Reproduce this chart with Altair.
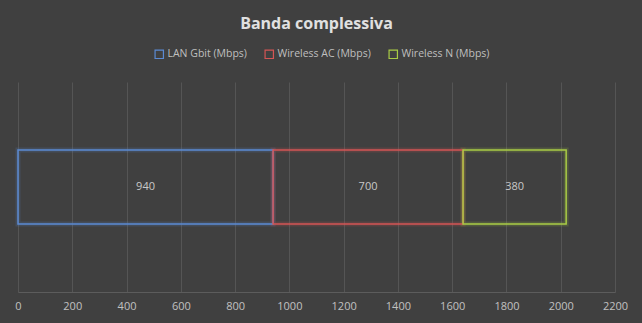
import altair as alt
import pandas as pd

series = ["LAN Gbit (Mbps)", "Wireless AC (Mbps)", "Wireless N (Mbps)"]
values = [940, 700, 380]
colors = ["#5b8ad3", "#d45555", "#a9cc45"]
x_ticks = list(range(0, 2201, 200))

df = pd.DataFrame({"serie": series, "valore": values, "ordine": [0, 1, 2], "riga": ["Banda"] * 3})

FONT = "Open Sans"

base = alt.Chart(df).transform_stack(
    stack="valore", groupby=["riga"], as_=["x0", "x1"], sort=[alt.SortField("ordine")]
).transform_calculate(mid="(datum.x0 + datum.x1) / 2")

xscale = alt.Scale(domain=[0, 2200], nice=False, zero=True)
yenc = alt.Y("riga:N", axis=None, scale=alt.Scale(paddingInner=0, paddingOuter=0.92))
legend = alt.Legend(
    title=None, orient="none", direction="horizontal", legendX=136, legendY=-33,
    symbolType="square", symbolSize=70, symbolStrokeWidth=1.2, symbolFillColor="transparent",
    symbolOpacity=1,
    labelColor="#bfbfbf", labelFont=FONT, labelFontSize=10.5, columnPadding=15, labelOffset=3,
)
stroke = alt.Stroke("serie:N", scale=alt.Scale(domain=series, range=colors), legend=legend)

glow = base.mark_bar(fill="transparent", strokeWidth=5, strokeOpacity=0.18).encode(
    x=alt.X("x0:Q", scale=xscale,
            axis=alt.Axis(values=x_ticks, title=None, grid=True, gridColor="#555555",
                          domainColor="#5c5c5c", ticks=False, labelColor="#c0c0c0",
                          labelFont=FONT, labelFontSize=11, labelPadding=8, labelFlush=False,
                          format="d")),
    x2="x1:Q",
    y=yenc,
    stroke=stroke,
)
bars = base.mark_bar(fill="transparent", strokeWidth=1.5).encode(
    x=alt.X("x0:Q", scale=xscale), x2="x1:Q", y=yenc, stroke=stroke,
)
labels = base.mark_text(color="#c8c8c8", font=FONT, fontSize=11).encode(
    x=alt.X("mid:Q", scale=xscale), y=yenc, text="valore:Q",
)

chart = alt.layer(glow, bars, labels).properties(
    width=597, height=210,
    title=alt.TitleParams("Banda complessiva", color="#e0e0e0", font=FONT, fontSize=16,
                          fontWeight="bold", anchor="middle", frame="group", offset=17),
    background="#404040",
    padding={"left": 18, "top": 82, "right": 27, "bottom": 31},
    autosize=alt.AutoSizeParams(type="none"),
).configure_view(stroke=None)

chart.save("out.html", embed_options={"renderer": "svg", "actions": False})
